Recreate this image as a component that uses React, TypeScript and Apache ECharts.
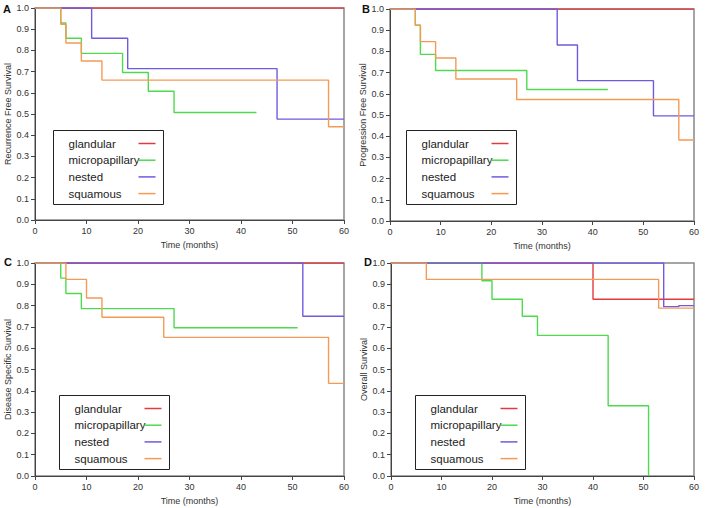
import React, { useEffect, useRef } from "react";
import * as echarts from "echarts";

const groups = ["glandular", "micropapillary", "nested", "squamous"];
const colors = ["#e23a3f", "#4fd94f", "#6f5be0", "#f59a55"];
const panelLetters = ["A", "B", "C", "D"];
const yTitles = [
  "Recurrence Free Survival",
  "Progression Free Survival",
  "Disease Specific Survival",
  "Overall Survival",
];
const xTitle = "Time (months)";

// [time, survival] steps per panel, per group (glandular, micropapillary, nested, squamous)
const panelA = [
  [[0, 1], [60, 1]],
  [[0, 1], [5, 0.929], [6, 0.857], [9, 0.786], [17, 0.696], [22, 0.607], [27, 0.507], [43, 0.507]],
  [[0, 1], [11, 0.857], [18, 0.714], [47, 0.476], [60, 0.476]],
  [[0, 1], [5, 0.923], [6, 0.835], [9, 0.75], [13, 0.66], [57, 0.44], [60, 0.44]],
];
const panelB = [
  [[0, 1], [60, 1]],
  [[0, 1], [5, 0.923], [6, 0.786], [9, 0.71], [27, 0.62], [43, 0.62]],
  [[0, 1], [33, 0.83], [37, 0.662], [52, 0.496], [60, 0.496]],
  [[0, 1], [5, 0.923], [6, 0.846], [9, 0.769], [13, 0.67], [25, 0.573], [57, 0.382], [60, 0.382]],
];
const panelC = [
  [[0, 1], [60, 1]],
  [[0, 1], [5, 0.929], [6, 0.857], [9, 0.786], [27, 0.696], [51, 0.696]],
  [[0, 1], [52, 0.75], [60, 0.75]],
  [[0, 1], [6, 0.923], [10, 0.836], [13, 0.745], [25, 0.651], [57, 0.435], [60, 0.435]],
];
const panelD = [
  [[0, 1], [40, 0.83], [60, 0.83]],
  [[0, 1], [18, 0.917], [20, 0.83], [26, 0.75], [29, 0.66], [43, 0.33], [51, 0.0]],
  [[0, 1], [54, 0.795], [57, 0.8], [60, 0.8]],
  [[0, 1], [7, 0.923], [53, 0.788], [60, 0.788]],
];
const panels = [panelA, panelB, panelC, panelD];
const xTicks = { min: 0, max: 60, interval: 10 };
const yTicks = { min: 0, max: 1, interval: 0.1 };

const grids = [
  { left: 35, top: 8, width: 309, height: 212 },
  { left: 390, top: 9, width: 304, height: 212 },
  { left: 35, top: 263, width: 309, height: 213 },
  { left: 391, top: 263, width: 303, height: 213 },
];
const legendPos = [
  { x: 53, y: 130 },
  { x: 406, y: 130 },
  { x: 59, y: 395 },
  { x: 415, y: 395 },
];
const letterPos = [
  { x: 3, y: 3 },
  { x: 362, y: 3 },
  { x: 4, y: 256 },
  { x: 364, y: 256 },
];

export default function App() {
  const ref = useRef<HTMLDivElement>(null);
  useEffect(() => {
    if (!ref.current) return;
    const chart = echarts.init(ref.current, null, { renderer: "svg" });
    const font = "Liberation Sans, Arial, sans-serif";
    const xAxis: any[] = [];
    const yAxis: any[] = [];
    const series: any[] = [];
    const graphic: any[] = [];
    panels.forEach((p, i) => {
      xAxis.push({
        type: "value",
        gridIndex: i,
        min: xTicks.min,
        max: xTicks.max,
        interval: xTicks.interval,
        name: xTitle,
        nameLocation: "middle",
        nameGap: 20,
        nameTextStyle: { fontSize: 9, color: "#333", fontFamily: font },
        axisLine: { show: true, lineStyle: { color: "#444", width: 1 } },
        axisTick: { show: true, length: 4, lineStyle: { color: "#444" } },
        axisLabel: { fontSize: 9, color: "#333", margin: 6, fontFamily: font },
        splitLine: { show: false },
      });
      yAxis.push({
        type: "value",
        gridIndex: i,
        min: yTicks.min,
        max: yTicks.max,
        interval: yTicks.interval,
        name: yTitles[i],
        nameLocation: "middle",
        nameGap: 22,
        nameTextStyle: { fontSize: 9, color: "#333", fontFamily: font },
        axisLine: { show: true, lineStyle: { color: "#444", width: 1 } },
        axisTick: { show: true, length: 4, lineStyle: { color: "#444" } },
        axisLabel: {
          fontSize: 9,
          color: "#333",
          margin: 6,
          fontFamily: font,
          formatter: (v: number) => v.toFixed(1),
        },
        splitLine: { show: false },
      });
      p.forEach((data, g) => {
        series.push({
          type: "line",
          name: groups[g],
          xAxisIndex: i,
          yAxisIndex: i,
          data,
          step: "end",
          showSymbol: false,
          symbol: "none",
          lineStyle: { color: colors[g], width: 1.4 },
          itemStyle: { color: colors[g] },
          z: 3 + g,
        });
      });
      const lp = legendPos[i];
      const children: any[] = [
        {
          type: "rect",
          shape: { x: 0, y: 0, width: 110, height: 74 },
          style: { fill: "#fff", stroke: "#222", lineWidth: 1 },
        },
      ];
      groups.forEach((name, g) => {
        const cy = 13 + g * 16.7;
        children.push({
          type: "text",
          x: 15,
          y: cy,
          style: {
            text: name,
            fontSize: 11.5,
            fill: "#222",
            fontFamily: font,
            verticalAlign: "middle",
            align: "left",
          },
        });
        children.push({
          type: "line",
          shape: { x1: 85, y1: cy, x2: 102, y2: cy },
          style: { stroke: colors[g], lineWidth: 1.5 },
        });
      });
      graphic.push({
        type: "group",
        x: lp.x + 0.5,
        y: lp.y + 0.5,
        z: 100,
        children,
      });
      graphic.push({
        type: "text",
        left: letterPos[i].x,
        top: letterPos[i].y,
        style: {
          text: panelLetters[i],
          fontSize: 11,
          fontWeight: "bold",
          fill: "#111",
          fontFamily: font,
        },
      });
    });
    chart.setOption({
      animation: false,
      backgroundColor: "#fff",
      grid: grids.map((g) => ({
        ...g,
        show: true,
        borderColor: "#888",
        borderWidth: 1.5,
        backgroundColor: "transparent",
      })),
      xAxis,
      yAxis,
      series,
      graphic,
    });
    return () => chart.dispose();
  }, []);
  return (
    <div
      ref={ref}
      style={{ position: "fixed", left: 0, top: 0, width: 708, height: 508 }}
    />
  );
}
